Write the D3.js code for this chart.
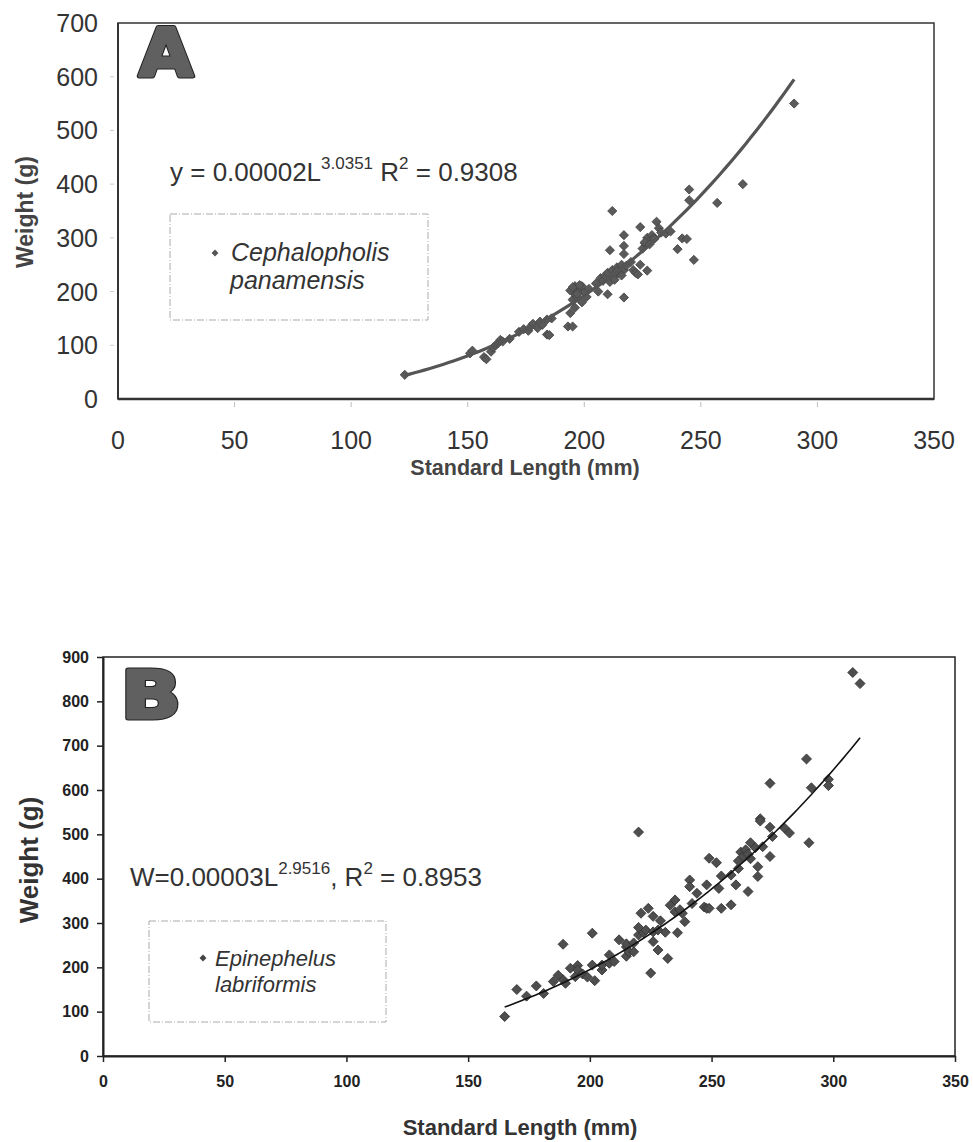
<!DOCTYPE html>
<html><head><meta charset="utf-8">
<script src="https://cdn.jsdelivr.net/npm/d3@7"></script>
<style>
html,body{margin:0;padding:0;background:#fff;}
svg{display:block;font-family:"Liberation Sans",Arial,sans-serif;}
</style></head>
<body>
<svg id="chart" width="973" height="1142"></svg>
<script>
// ---------- DATA ----------
const xTicks = [0, 50, 100, 150, 200, 250, 300, 350];
const yTicksA = [0, 100, 200, 300, 400, 500, 600, 700];
const yTicksB = [0, 100, 200, 300, 400, 500, 600, 700, 800, 900];

// Panel A: Cephalopholis panamensis
const lengthA = [123,151,152,157,158,160,161,162,163,164,165,168,172,174,176,177,178,180,181,182,184,185,186,184,
  193,195,194,196,195,196,197,198,199,197,200,201,199,202,196,194,195,197,198,
  205,206,207,208,209,210,211,212,213,214,215,216,217,210,217,211,212,217,217,217,213,214,216,218,
  220,221,222,223,224,224,225,226,227,228,229,230,227,231,232,233,235,237,226,228,230,
  240,242,244,247,245,245,257,268,290];
const weightA = [45,85,90,78,74,88,96,100,104,110,107,112,125,130,127,135,140,132,144,138,120,119,150,148,
  135,135,160,170,185,195,200,205,210,190,198,190,180,205,210,202,208,196,212,
  215,200,225,220,230,235,218,240,228,245,235,250,240,195,189,277,350,305,285,270,222,238,230,248,
  255,240,235,232,250,320,280,290,300,295,305,300,239,330,318,310,308,312,292,288,298,
  279,299,298,259,390,370,365,400,550];

// Panel B: Epinephelus labriformis
const lengthB = [165,174,181,185,189,189,190,192,194,195,195,197,199,201,201,202,205,205,208,208,210,
  215,215,215,216,218,220,220,221,222,223,225,226,226,226,228,228,229,231,232,235,235,236,238,239,
  241,241,242,244,247,248,248,249,249,252,253,254,254,258,258,260,261,261,262,263,264,265,265,266,266,268,269,269,270,270,271,274,274,274,275,280,282,
  289,290,291,298,298,308,311,224,220,218,212,170,178,187,233,237];
const weightB = [89,135,141,168,172,252,164,198,179,204,194,185,178,277,205,170,194,205,209,228,213,
  246,253,225,235,235,273,505,322,278,284,187,258,315,280,239,284,305,279,220,352,325,278,322,303,
  397,382,344,367,336,333,386,446,333,436,378,333,406,341,408,386,423,440,460,450,465,455,371,445,481,470,427,405,535,530,472,516,615,450,495,514,503,
  670,481,605,624,610,865,840,333,290,255,262,150,158,182,340,330];

// Trend lines (power fits, W = a * L^b)
const fitA = {a: 0.00002, b: 3.0351, from: 123, to: 290};
const fitB = {a: 0.0000315, b: 2.9516, from: 165, to: 311};

// ---------- DRAW ----------
const svg = d3.select("#chart");
const square = d3.symbol().type(d3.symbolSquare);

function bigLetter(g, txt, x, y, w) {
  g.append("text").attr("x", x).attr("y", y).text(txt)
    .attr("font-family", "DejaVu Sans").attr("font-weight", "bold").attr("font-size", 66)
    .attr("textLength", w).attr("lengthAdjust", "spacingAndGlyphs")
    .attr("fill", "#222").attr("stroke", "#222").attr("stroke-width", 5).attr("stroke-linejoin", "round");
  g.append("text").attr("x", x).attr("y", y).text(txt)
    .attr("font-family", "DejaVu Sans").attr("font-weight", "bold").attr("font-size", 66)
    .attr("textLength", w).attr("lengthAdjust", "spacingAndGlyphs")
    .attr("fill", "#606060").attr("stroke", "#606060").attr("stroke-width", 3).attr("stroke-linejoin", "round");
}

function curvePts(fit, n) {
  const pts = [];
  for (let i = 0; i <= n; i++) {
    const L = fit.from + (fit.to - fit.from) * i / n;
    pts.push([L, fit.a * Math.pow(L, fit.b)]);
  }
  return pts;
}

function eqText(g, x, y, size, supSize, parts) {
  const t = g.append("text").attr("x", x).attr("y", y).attr("font-size", size).attr("fill", "#333");
  parts.forEach(p => {
    const s = t.append("tspan").text(p[0]);
    if (p[1] === "sup") s.attr("dy", -size * 0.45).attr("font-size", supSize);
    else if (p[1] === "down") s.attr("dy", size * 0.45);
  });
}

// ---------- Panel A ----------
{
  const g = svg.append("g");
  const x = d3.scaleLinear().domain([0, 350]).range([118, 934]);
  const y = d3.scaleLinear().domain([0, 700]).range([399, 23]);

  g.append("g").selectAll("line").data(xTicks.slice(1, -1)).join("line")
    .attr("x1", d => x(d)).attr("x2", d => x(d)).attr("y1", 402).attr("y2", 407)
    .attr("stroke", "#bbb").attr("stroke-width", 1);
  g.append("g").selectAll("line").data(yTicksA.slice(1, -1)).join("line")
    .attr("x1", 110).attr("x2", 114).attr("y1", d => y(d)).attr("y2", d => y(d))
    .attr("stroke", "#ccc").attr("stroke-width", 1);

  g.append("rect").attr("x", 118).attr("y", 23).attr("width", 934 - 118).attr("height", 399 - 23)
    .attr("fill", "none").attr("stroke", "#333").attr("stroke-width", 1.5);
  g.append("line").attr("x1", 118).attr("x2", 934).attr("y1", 399).attr("y2", 399)
    .attr("stroke", "#333").attr("stroke-width", 2.5);
  g.append("line").attr("x1", 118).attr("x2", 118).attr("y1", 23).attr("y2", 399)
    .attr("stroke", "#333").attr("stroke-width", 2);

  g.append("g").selectAll("text").data(xTicks).join("text")
    .attr("x", d => x(d)).attr("y", 449).attr("text-anchor", "middle")
    .attr("font-size", 25).attr("fill", "#333").text(d => d);
  g.append("g").selectAll("text").data(yTicksA).join("text")
    .attr("x", 98).attr("y", d => y(d) + 9).attr("text-anchor", "end")
    .attr("font-size", 25).attr("fill", "#333").text(d => d);

  g.append("text").attr("x", 525).attr("y", 475).attr("text-anchor", "middle")
    .attr("font-size", 21.5).attr("font-weight", "bold").attr("fill", "#444").text("Standard Length (mm)");
  g.append("text").attr("transform", "translate(33,212) rotate(-90)").attr("text-anchor", "middle")
    .attr("font-size", 23).attr("font-weight", "bold").attr("fill", "#444").text("Weight (g)");

  g.append("g").selectAll("path").data(lengthA.map((L, i) => [L, weightA[i]])).join("path")
    .attr("d", square.size(42)).attr("transform", d => `translate(${x(d[0])},${y(d[1])}) rotate(45)`)
    .attr("fill", "#5a5a5a").attr("stroke", "#444").attr("stroke-width", 0.8);

  g.append("path").datum(curvePts(fitA, 80))
    .attr("d", d3.line().x(d => x(d[0])).y(d => y(d[1])))
    .attr("fill", "none").attr("stroke", "#555").attr("stroke-width", 3.2);

  eqText(g, 170, 181, 26, 17, [["y = 0.00002L"], ["3.0351", "sup"], [" R", "down"], ["2", "sup"], [" = 0.9308", "down"]]);

  g.append("rect").attr("x", 170).attr("y", 214).attr("width", 258).attr("height", 106)
    .attr("fill", "none").attr("stroke", "#aaa").attr("stroke-width", 1).attr("stroke-dasharray", "7,2,1,2");
  g.append("path").attr("d", square.size(24)).attr("transform", "translate(215,253) rotate(45)").attr("fill", "#555");
  g.append("text").attr("x", 231).attr("y", 261).attr("font-size", 25).attr("font-style", "italic")
    .attr("fill", "#333").text("Cephalopholis");
  g.append("text").attr("x", 230).attr("y", 289).attr("font-size", 25).attr("font-style", "italic")
    .attr("fill", "#333").text("panamensis");

  bigLetter(g, "A", 139, 76, 54);
}

// ---------- Panel B ----------
{
  const g = svg.append("g");
  const x = d3.scaleLinear().domain([0, 350]).range([103, 955]);
  const y = d3.scaleLinear().domain([0, 900]).range([1056, 657]);

  g.append("rect").attr("x", 103).attr("y", 657).attr("width", 955 - 103).attr("height", 1056 - 657)
    .attr("fill", "none").attr("stroke", "#222").attr("stroke-width", 1.5);

  const xa = g.append("g").attr("transform", "translate(0,1056)")
    .call(d3.axisBottom(x).tickValues(xTicks).tickSize(6).tickPadding(14).tickSizeOuter(0));
  const ya = g.append("g").attr("transform", "translate(103,0)")
    .call(d3.axisLeft(y).tickValues(yTicksB).tickSize(6).tickPadding(8).tickSizeOuter(0));
  [xa, ya].forEach(a => {
    a.select(".domain").attr("stroke", "#222").attr("stroke-width", 2);
    a.selectAll(".tick line").attr("stroke", "#222").attr("stroke-width", 1.5);
    a.selectAll(".tick text").attr("font-size", 16).attr("font-weight", "bold")
      .attr("font-family", "Liberation Sans, Arial, sans-serif").attr("fill", "#222");
  });

  g.append("text").attr("x", 520).attr("y", 1135).attr("text-anchor", "middle")
    .attr("font-size", 22).attr("font-weight", "bold").attr("fill", "#333").text("Standard Length (mm)");
  g.append("text").attr("transform", "translate(38,860) rotate(-90)").attr("text-anchor", "middle")
    .attr("font-size", 26).attr("font-weight", "bold").attr("fill", "#333").text("Weight (g)");

  g.append("g").selectAll("path").data(lengthB.map((L, i) => [L, weightB[i]])).join("path")
    .attr("d", square.size(50)).attr("transform", d => `translate(${x(d[0])},${y(d[1])}) rotate(45)`)
    .attr("fill", "#4e4e4e").attr("stroke", "#333").attr("stroke-width", 0.8);

  g.append("path").datum(curvePts(fitB, 80))
    .attr("d", d3.line().x(d => x(d[0])).y(d => y(d[1])))
    .attr("fill", "none").attr("stroke", "#111").attr("stroke-width", 1.6);

  eqText(g, 130, 886, 26, 17, [["W=0.00003L"], ["2.9516", "sup"], [", R", "down"], ["2", "sup"], [" = 0.8953", "down"]]);

  g.append("rect").attr("x", 149).attr("y", 921).attr("width", 237).attr("height", 101)
    .attr("fill", "none").attr("stroke", "#aaa").attr("stroke-width", 1).attr("stroke-dasharray", "7,2,1,2");
  g.append("path").attr("d", square.size(24)).attr("transform", "translate(203,958) rotate(45)").attr("fill", "#444");
  g.append("text").attr("x", 215).attr("y", 966).attr("font-size", 22).attr("font-style", "italic")
    .attr("fill", "#333").text("Epinephelus");
  g.append("text").attr("x", 215).attr("y", 992).attr("font-size", 22).attr("font-style", "italic")
    .attr("fill", "#333").text("labriformis");

  bigLetter(g, "B", 121, 718, 60);
}
</script>
</body></html>
